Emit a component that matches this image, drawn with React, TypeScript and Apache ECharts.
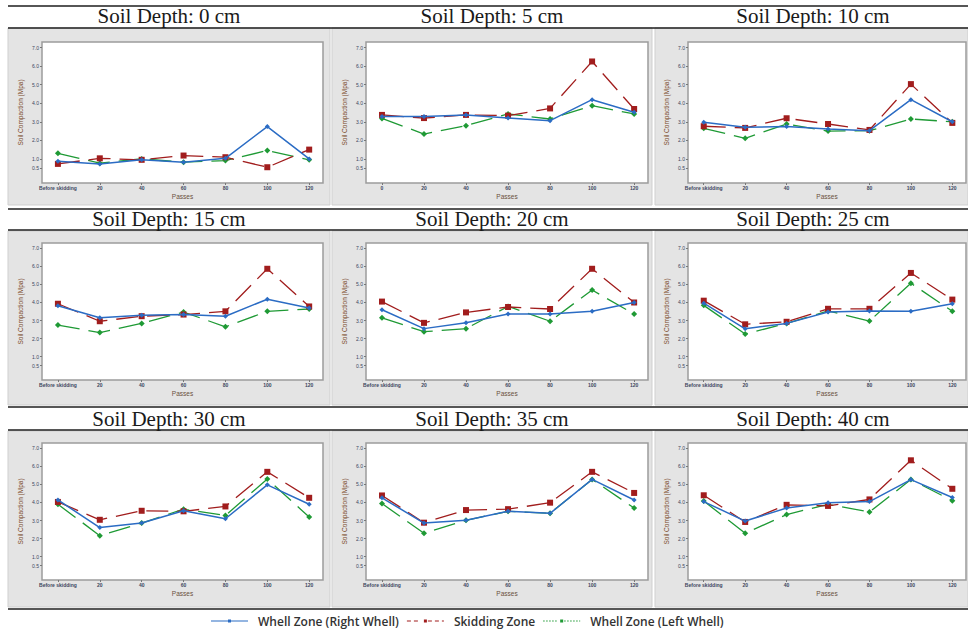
import React, { useEffect, useRef } from "react";
import * as echarts from "echarts";

const depths = ["0", "5", "10", "15", "20", "25", "30", "35", "40"];
const passLabels = ["Before skidding", "20", "40", "60", "80", "100", "120"];
const passLabels5cm = ["0", "20", "40", "60", "80", "100", "120"];
const yTicks = [0.5, 1, 2, 3, 4, 5, 6, 7];

// Soil compaction (MPa), one row per soil depth
const rightWheel: number[][] = [
  [0.87, 0.73, 0.95, 0.82, 1.03, 2.74, 1.0],
  [3.29, 3.29, 3.37, 3.2, 3.06, 4.19, 3.51],
  [2.97, 2.7, 2.74, 2.61, 2.52, 4.19, 3.0],
  [3.82, 3.15, 3.29, 3.33, 3.24, 4.18, 3.69],
  [3.6, 2.55, 2.87, 3.36, 3.36, 3.51, 4.0],
  [3.96, 2.54, 2.84, 3.47, 3.53, 3.51, 3.93],
  [4.14, 2.61, 2.86, 3.54, 3.1, 4.98, 3.9],
  [4.26, 2.86, 3.01, 3.51, 3.4, 5.28, 4.14],
  [4.05, 2.97, 3.69, 3.99, 4.05, 5.27, 4.28],
];
const skidding: number[][] = [
  [0.73, 1.03, 0.95, 1.18, 1.09, 0.55, 1.5],
  [3.37, 3.2, 3.37, 3.33, 3.72, 6.25, 3.69],
  [2.76, 2.67, 3.19, 2.88, 2.56, 5.03, 2.94],
  [3.93, 2.96, 3.24, 3.33, 3.51, 5.87, 3.78],
  [4.05, 2.87, 3.45, 3.75, 3.64, 5.87, 4.0],
  [4.1, 2.79, 2.93, 3.65, 3.65, 5.64, 4.16],
  [4.03, 3.04, 3.54, 3.51, 3.78, 5.7, 4.26],
  [4.39, 2.88, 3.58, 3.63, 3.99, 5.7, 4.53],
  [4.4, 2.92, 3.87, 3.81, 4.17, 6.34, 4.76],
];
const leftWheel: number[][] = [
  [1.3, 0.77, 1.0, 0.82, 0.91, 1.45, 0.95],
  [3.18, 2.34, 2.79, 3.42, 3.15, 3.87, 3.42],
  [2.65, 2.11, 2.88, 2.5, 2.52, 3.15, 3.0],
  [2.75, 2.33, 2.84, 3.47, 2.65, 3.51, 3.64],
  [3.15, 2.38, 2.55, 3.78, 2.96, 4.69, 3.36],
  [3.84, 2.25, 2.84, 3.53, 2.97, 5.07, 3.51],
  [3.9, 2.16, 2.86, 3.63, 3.28, 5.3, 3.19],
  [3.94, 2.29, 3.01, 3.51, 3.4, 5.28, 3.69],
  [4.08, 2.29, 3.33, 3.9, 3.47, 5.27, 4.1],
];

const seriesNames = ["Whell Zone (Right Whell)", "Skidding Zone", "Whell Zone (Left Whell)"];

const W = 968;
const H = 633;
const panelCols = [
  { l: 8, r: 330 },
  { l: 332, r: 652 },
  { l: 655, r: 968 },
];
const panelRows = [
  { t: 28, b: 205 },
  { t: 231, b: 405 },
  { t: 431, b: 607 },
];
const plotCols = [
  { l: 42, r: 323 },
  { l: 366, r: 648 },
  { l: 688, r: 966 },
];
const plotRows = [
  { t: 42, b: 183 },
  { t: 243, b: 380 },
  { t: 443, b: 580 },
];
const titleCenters = [169, 492, 813];
const titleY = [16, 219, 419];
const lineYs = [6, 28, 209, 230, 407, 430, 609];

const BLUE = "#2b6cc4";
const RED = "#a11d1d";
const GREEN = "#1f9a35";

function rectPath(x0: number, x1: number, y0: number, y1: number) {
  return `M${x0},${y0}L${x1},${y0}L${x1},${y1}L${x0},${y1}Z`;
}
function dashedIcon(dash: number, gap: number) {
  let d = "";
  let x = 0;
  while (x < 37) {
    const e = Math.min(37, x + dash);
    if (!(e > 16 && x < 21)) d += rectPath(x, e, 1, 2);
    x = e + gap;
  }
  d += rectPath(17, 20, 0, 3);
  return "path://" + d;
}
const blueIcon = "path://" + rectPath(0, 37, 1, 2) + rectPath(17, 20, 0, 3);
const redIcon = dashedIcon(4, 3);
const greenIcon = dashedIcon(1.5, 1.5);

export default function App() {
  const ref = useRef<HTMLDivElement>(null);
  useEffect(() => {
    document.body.style.margin = "0";
    const chart = echarts.init(ref.current!, null, { renderer: "svg" });

    const grids: any[] = [];
    const xAxes: any[] = [];
    const yAxes: any[] = [];
    const series: any[] = [];
    const graphics: any[] = [];

    panelRows.forEach((pr) => {
      panelCols.forEach((pc) => {
        graphics.push({
          type: "rect",
          silent: true,
          z: -10,
          shape: { x: pc.l, y: pr.t, width: pc.r - pc.l, height: pr.b - pr.t },
          style: { fill: "#e4e4e4", stroke: "#cfcfcf", lineWidth: 1 },
        });
      });
    });
    lineYs.forEach((y) => {
      graphics.push({
        type: "line",
        silent: true,
        shape: { x1: 8, y1: y, x2: W, y2: y },
        style: { stroke: "#1e1e1e", lineWidth: 1.6 },
      });
    });

    depths.forEach((d, i) => {
      const r = Math.floor(i / 3);
      const c = i % 3;
      const pc = plotCols[c];
      const pr = plotRows[r];
      graphics.push({
        type: "text",
        silent: true,
        x: titleCenters[c],
        y: titleY[r],
        style: {
          text: `Soil Depth: ${d} cm`,
          fontFamily: "Liberation Serif",
          fontSize: 21,
          fill: "#1a1a1a",
          align: "center",
          verticalAlign: "middle",
        },
      });
      grids.push({
        left: pc.l,
        top: pr.t,
        width: pc.r - pc.l,
        height: pr.b - pr.t,
        show: true,
        backgroundColor: "#ffffff",
        borderColor: "#9c9c9c",
        borderWidth: 1.5,
        containLabel: false,
      });
      const labels = i === 1 ? passLabels5cm : passLabels;
      xAxes.push({
        type: "value",
        gridIndex: i,
        min: -0.38,
        max: 6.33,
        name: "Passes",
        nameLocation: "middle",
        nameGap: 10,
        nameTextStyle: { fontSize: 6.5, color: "#6a5040", fontFamily: "Liberation Sans" },
        axisLine: { show: false, onZero: false },
        splitLine: { show: false },
        axisTick: { show: true, length: 2, customValues: [0, 1, 2, 3, 4, 5, 6], lineStyle: { color: "#777" } },
        axisLabel: {
          customValues: [0, 1, 2, 3, 4, 5, 6],
          formatter: (v: number) => labels[Math.round(v)] ?? "",
          fontSize: 5,
          margin: 2,
          color: "#3c4660",
          fontWeight: "bold",
          fontFamily: "Liberation Sans",
        },
      });
      yAxes.push({
        type: "value",
        gridIndex: i,
        min: -0.3,
        max: 7.3,
        name: "Soil Compaction (Mpa)",
        nameLocation: "middle",
        nameGap: 18,
        nameTextStyle: { fontSize: 6.5, color: "#7a4a2a", fontFamily: "Liberation Sans" },
        axisLine: { show: false, onZero: false },
        splitLine: { show: false },
        axisTick: { show: true, length: 2, customValues: yTicks, lineStyle: { color: "#777" } },
        axisLabel: {
          customValues: yTicks,
          formatter: (v: number) => v.toFixed(1),
          fontSize: 5,
          margin: 3,
          color: "#3c4660",
          fontFamily: "Liberation Sans",
        },
      });
      series.push({
        type: "line",
        name: seriesNames[2],
        xAxisIndex: i,
        yAxisIndex: i,
        data: leftWheel[i].map((v, k) => [k, v]),
        symbol: "diamond",
        symbolSize: 6,
        lineStyle: { color: GREEN, width: 1.3, type: [22, 9] },
        itemStyle: { color: GREEN },
        z: 2,
      });
      series.push({
        type: "line",
        name: seriesNames[1],
        xAxisIndex: i,
        yAxisIndex: i,
        data: skidding[i].map((v, k) => [k, v]),
        symbol: "rect",
        symbolSize: 6,
        lineStyle: { color: RED, width: 1.3, type: [22, 9] },
        itemStyle: { color: RED },
        z: 3,
      });
      series.push({
        type: "line",
        name: seriesNames[0],
        xAxisIndex: i,
        yAxisIndex: i,
        data: rightWheel[i].map((v, k) => [k, v]),
        symbol: "diamond",
        symbolSize: 5,
        lineStyle: { color: BLUE, width: 1.5 },
        itemStyle: { color: BLUE },
        z: 4,
      });
    });

    chart.setOption({
      animation: false,
      backgroundColor: "#ffffff",
      grid: grids,
      xAxis: xAxes,
      yAxis: yAxes,
      series,
      legend: {
        data: [
          { name: seriesNames[0], icon: blueIcon },
          { name: seriesNames[1], icon: redIcon },
          { name: seriesNames[2], icon: greenIcon },
        ],
        left: 211,
        top: 613,
        padding: 0,
        itemWidth: 37,
        itemHeight: 3,
        itemGap: 8,
        textStyle: {
          fontSize: 12,
          fontWeight: 600,
          color: "#333",
          fontFamily: "Open Sans",
          padding: [0, 0, 0, 5],
          lineHeight: 16,
        },
      },
      graphic: graphics,
    });
    return () => chart.dispose();
  }, []);
  return <div ref={ref} style={{ width: W, height: H }} />;
}
